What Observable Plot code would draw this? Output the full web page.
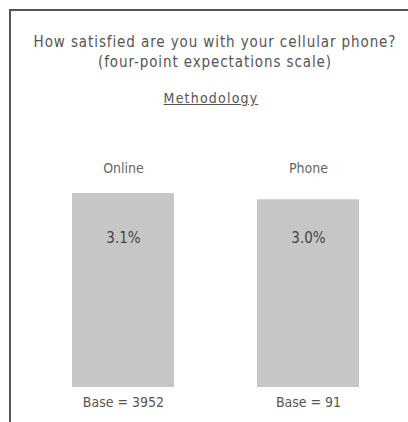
<!DOCTYPE html>
<html>
<head>
<meta charset="utf-8">
<script src="https://cdn.jsdelivr.net/npm/d3@7"></script>
<script src="https://cdn.jsdelivr.net/npm/@observablehq/plot@0.6"></script>
<style>
  html, body { margin: 0; padding: 0; background: #fff; }
  body { width: 408px; height: 422px; overflow: hidden; position: relative;
         font-family: "DejaVu Sans Condensed", "Liberation Sans Narrow", sans-serif; font-stretch: condensed; }
  #frame { position: absolute; left: 9px; top: 9px; width: 399px; height: 413px;
           border-top: 2px solid #555; border-left: 2px solid #555; box-sizing: border-box; }
  #title { position: absolute; left: 0; top: 32px; width: 430px; text-align: center;
           font-size: 15px; line-height: 20px; color: #555; letter-spacing: 0.9px; }
  #sub { position: absolute; left: 0; top: 90px; width: 422px; text-align: center;
         font-size: 14px; color: #555; text-decoration: underline; letter-spacing: 1.2px; }
  #chart { position: absolute; left: 0; top: 150px; }
</style>
</head>
<body>
<div id="frame"></div>
<div id="title">How satisfied are you with your cellular phone?<br>(four-point expectations scale)</div>
<div id="sub">Methodology</div>
<div id="chart"></div>
<script>
const methods = ["Online", "Phone"];
const scores = [3.1, 3.0];
const scoreLabels = ["3.1%", "3.0%"];
const bases = ["Base = 3952", "Base = 91"];

const data = methods.map((m, i) => ({method: m, score: scores[i], label: scoreLabels[i], base: bases[i]}));

const plot = Plot.plot({
  width: 408,
  height: 272,
  marginLeft: 30,
  marginRight: 7,
  marginTop: 43,
  marginBottom: 35,
  style: {fontFamily: '"DejaVu Sans Condensed", "Liberation Sans Narrow", sans-serif', background: "transparent"},
  x: {domain: methods, paddingInner: 0.449, paddingOuter: 0.227, axis: null},
  y: {domain: [0, 3.1], axis: null},
  marks: [
    Plot.barY(data, {x: "method", y: "score", fill: "#c6c6c6"}),
    Plot.text(data, {x: "method", text: "method", frameAnchor: "top", dy: -30, fontSize: 14, fill: "#666"}),
    Plot.text(data, {x: "method", text: "label", frameAnchor: "top", dy: 39, fontSize: 15, fill: "#444", letterSpacing: 1}),
    Plot.text(data, {x: "method", text: "base", frameAnchor: "bottom", dy: 19, fontSize: 14, fill: "#555"})
  ]
});
document.getElementById("chart").appendChild(plot);
</script>
</body>
</html>
